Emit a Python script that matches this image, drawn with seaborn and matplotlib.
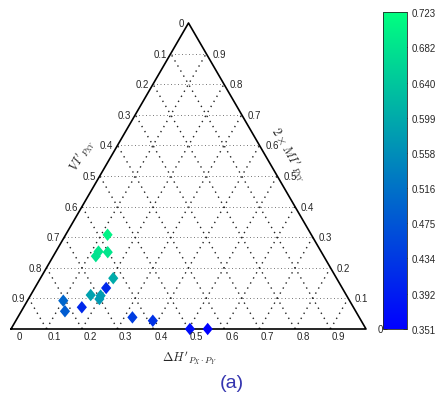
import numpy as np
import pandas as pd
import matplotlib
matplotlib.use("Agg")
import matplotlib.pyplot as plt
import seaborn as sns
from matplotlib.transforms import offset_copy

# ---- data (entropy-triangle coordinates + colour value) ----
delta_h = [0.118, 0.120, 0.120, 0.147, 0.205, 0.201, 0.169, 0.198, 0.200,
           0.101, 0.123, 0.164, 0.323, 0.386, 0.504, 0.554]
two_mi = [0.308, 0.253, 0.238, 0.251, 0.166, 0.134, 0.111, 0.109, 0.098,
          0.0925, 0.058, 0.071, 0.038, 0.027, 0.0, 0.0]
cval = [0.705, 0.686, 0.680, 0.686, 0.600, 0.410, 0.585, 0.580, 0.575,
        0.500, 0.485, 0.410, 0.440, 0.425, 0.370, 0.351]
vi = [1 - a - b for a, b in zip(delta_h, two_mi)]

cbar_ticks = [0.351, 0.392, 0.434, 0.475, 0.516, 0.558, 0.599, 0.640, 0.682, 0.723]
grid_levels = [0.1, 0.2, 0.3, 0.4, 0.5, 0.6, 0.7, 0.8, 0.9]
tick_vals = [0.0, 0.1, 0.2, 0.3, 0.4, 0.5, 0.6, 0.7, 0.8, 0.9]

W, H = 443, 402
S = np.sqrt(3) / 2

sns.set_style("white")
plt.rcParams['font.family'] = ['Liberation Sans', 'DejaVu Sans']
plt.rcParams['mathtext.fontset'] = 'cm'

fig = plt.figure(figsize=(W / 100, H / 100), dpi=100)
ax = fig.add_axes([11 / W, 72 / H, 355 / W, 306 / H])
ax.set_xlim(0, 1)
ax.set_ylim(0, S)
ax.axis('off')

def tern(dh, mi):
    return dh + mi / 2.0, mi * S

# grid
for k in grid_levels:
    # constant 2MI (horizontal)
    x0, y0 = tern(0, k); x1, y1 = tern(1 - k, k)
    ax.plot([x0, x1], [y0, y1], ls=(0, (1, 2.6)), color='#777777', lw=0.7, zorder=1)
    # constant dH (parallel to left edge)
    x0, y0 = tern(k, 0); x1, y1 = tern(k, 1 - k)
    ax.plot([x0, x1], [y0, y1], ls=(0, (1, 3.2)), color='#222222', lw=1.0, zorder=1)
    # constant VI (parallel to right edge)
    x0, y0 = tern(1 - k, 0); x1, y1 = tern(0, 1 - k)
    ax.plot([x0, x1], [y0, y1], ls=(0, (1, 3.2)), color='#222222', lw=1.0, zorder=1)

# triangle
tx = [0, 1, 0.5, 0]
ty = [0, 0, S, 0]
ax.plot(tx, ty, color='black', lw=1.2, zorder=2, clip_on=False)

# data
diamond = [(0, 1), (0.82, 0), (0, -1), (-0.82, 0), (0, 1)]
px, py = zip(*[tern(a, b) for a, b in zip(delta_h, two_mi)])
df = pd.DataFrame({'x': px, 'y': py, 'c': cval})
sns.scatterplot(data=df, x='x', y='y', hue='c', palette='winter',
                hue_norm=(0.351, 0.723), marker=diamond, s=80, edgecolor='none',
                linewidth=0, legend=False, ax=ax, zorder=3, clip_on=False)

# edge tick labels
fs = 7
for v in tick_vals:
    # left edge: VI
    x, y = tern(0, 1 - v)
    tr = offset_copy(ax.transData, fig=fig, x=-4, y=0, units='dots')
    ax.text(x, y, f"{v:g}", transform=tr, ha='right', va='center', fontsize=fs)
    # right edge: 2MI
    x, y = tern(1 - v, v)
    dx = 12 if v == 0 else 6
    tr = offset_copy(ax.transData, fig=fig, x=dx, y=0, units='dots')
    ax.text(x, y, f"{v:g}", transform=tr, ha='left', va='center', fontsize=fs)
    # bottom edge: dH
    x, y = tern(v, 0)
    tr = offset_copy(ax.transData, fig=fig, x=8, y=-7, units='dots')
    ax.text(x, y, f"{v:g}", transform=tr, ha='center', va='center', fontsize=fs)

# axis titles
fig.text(82 / W, 1 - 155 / H, r"$VI'_{P_{XY}}$", rotation=60, ha='center',
         va='center', fontsize=9)
fig.text(289 / W, 1 - 155 / H, r"$2\times MI'_{P_{XY}}$", rotation=-60,
         ha='center', va='center', fontsize=9)
fig.text(190 / W, 1 - 358 / H, r"$\Delta H'_{P_X\cdot P_Y}$", ha='center',
         va='center', fontsize=9)
fig.text(232 / W, 1 - 384 / H, "(a)", ha='center', va='center', fontsize=14,
         color='#3535b0')

# colorbar
cax = fig.add_axes([383 / W, 72 / H, 24 / W, 317 / H])
sm = plt.cm.ScalarMappable(cmap='winter',
                           norm=plt.Normalize(0.351, 0.723))
cb = fig.colorbar(sm, cax=cax, ticks=cbar_ticks)
cb.ax.set_yticklabels([f"{t:.3f}" for t in cbar_ticks])
cb.ax.tick_params(direction='in', length=3, width=0.6, left=True, right=True,
                  labelsize=fs, pad=3)
cb.outline.set_linewidth(0.6)

fig.savefig("out.png", dpi=100)
